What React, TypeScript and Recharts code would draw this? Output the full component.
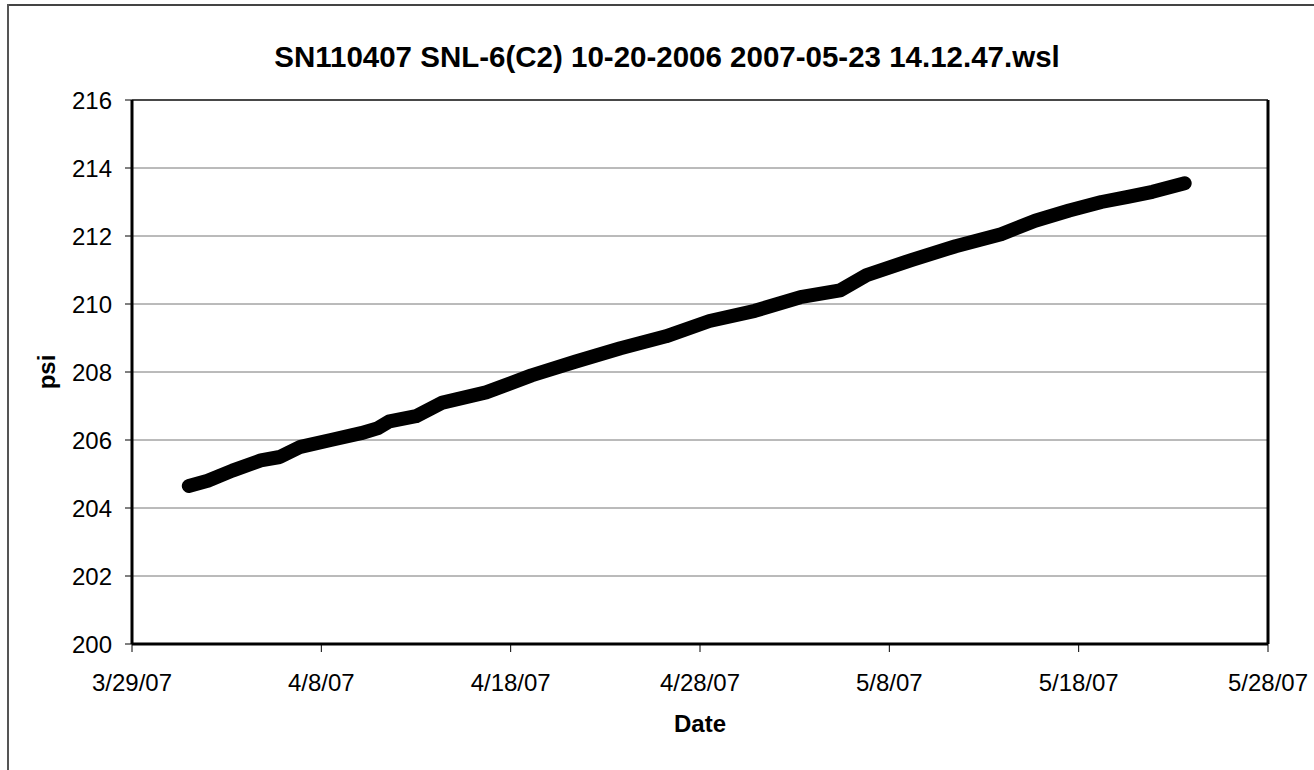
import React from 'react';
import { LineChart, Line, XAxis, YAxis, CartesianGrid, ReferenceLine } from 'recharts';

// x = days elapsed since 3/29/07 00:00
const dayOffsets = [
  3.0, 4.0, 5.3, 6.8, 7.8, 8.9, 10.5, 12.1, 13.0, 13.6, 15.0, 16.4, 18.7, 21.1, 23.4,
  25.8, 28.2, 30.5, 32.9, 35.3, 37.4, 38.8, 41.2, 43.5, 45.9, 47.7, 49.5, 51.2, 52.6,
  53.9, 55.6,
];
const psiValues = [
  204.65, 204.8, 205.1, 205.4, 205.5, 205.8, 206.0, 206.2, 206.35, 206.55, 206.7, 207.1,
  207.4, 207.9, 208.3, 208.7, 209.05, 209.5, 209.8, 210.2, 210.4, 210.85, 211.3, 211.7,
  212.05, 212.45, 212.75, 213.0, 213.15, 213.3, 213.55,
];

const xTickValues = [0, 10, 20, 30, 40, 50, 60];
const xTickLabels = ['3/29/07', '4/8/07', '4/18/07', '4/28/07', '5/8/07', '5/18/07', '5/28/07'];
const yTickValues = [200, 202, 204, 206, 208, 210, 212, 214, 216];

const title = 'SN110407 SNL-6(C2) 10-20-2006 2007-05-23 14.12.47.wsl';
const xTitle = 'Date';
const yTitle = 'psi';

const data = dayOffsets.map((d, i) => ({ day: d, psi: psiValues[i] }));

const FONT = '"Liberation Sans", Arial, Helvetica, sans-serif';

export default function App() {
  return (
    <div
      style={{
        position: 'absolute',
        left: 0,
        top: 0,
        width: 1314,
        height: 770,
        background: '#fff',
        fontFamily: FONT,
        overflow: 'hidden',
      }}
    >
      {/* scanned frame: top and left edges */}
      <div style={{ position: 'absolute', left: 8, top: 4, width: 1306, height: 2, background: '#444' }} />
      <div style={{ position: 'absolute', left: 7, top: 4, width: 2, height: 766, background: '#555' }} />

      <div
        style={{
          position: 'absolute',
          left: 0,
          top: 40,
          width: 1334,
          textAlign: 'center',
          fontSize: 29.5,
          fontWeight: 'bold',
          lineHeight: '34px',
          color: '#000',
          whiteSpace: 'nowrap',
        }}
      >
        {title}
      </div>

      <div style={{ position: 'absolute', left: 0, top: 0 }}>
        <LineChart
          width={1314}
          height={770}
          data={data}
          margin={{ top: 100, right: 46, left: 52, bottom: 26 }}
        >
          <CartesianGrid vertical={false} stroke="#777" strokeWidth={1} />
          <XAxis
            dataKey="day"
            type="number"
            domain={[0, 60]}
            ticks={xTickValues}
            tickFormatter={(v: number) => xTickLabels[xTickValues.indexOf(v)] ?? ''}
            height={100}
            tickSize={8}
            tickMargin={22}
            axisLine={{ stroke: '#000', strokeWidth: 3 }}
            tickLine={{ stroke: '#000', strokeWidth: 1 }}
            tick={{ fill: '#000', fontSize: 24, fontFamily: FONT }}
            interval={0}
            allowDataOverflow
          />
          <YAxis
            type="number"
            domain={[200, 216]}
            ticks={yTickValues}
            width={80}
            tickSize={7}
            tickMargin={13}
            axisLine={{ stroke: '#000', strokeWidth: 3 }}
            tickLine={{ stroke: '#000', strokeWidth: 1 }}
            tick={{ fill: '#000', fontSize: 24, fontFamily: FONT }}
            interval={0}
            allowDataOverflow
          />
          <ReferenceLine y={216} stroke="#222" strokeWidth={1.5} ifOverflow="visible" />
          <ReferenceLine x={60} stroke="#000" strokeWidth={3} ifOverflow="visible" />
          <Line
            type="linear"
            dataKey="psi"
            stroke="#000"
            strokeWidth={14}
            strokeLinecap="round"
            strokeLinejoin="round"
            dot={false}
            activeDot={false}
            isAnimationActive={false}
          />
        </LineChart>
      </div>

      <div
        style={{
          position: 'absolute',
          left: 600,
          width: 200,
          top: 709,
          textAlign: 'center',
          fontSize: 24,
          fontWeight: 'bold',
          lineHeight: '30px',
          color: '#000',
        }}
      >
        {xTitle}
      </div>

      <div
        style={{
          position: 'absolute',
          left: 47 - 50,
          top: 372 - 15,
          width: 100,
          textAlign: 'center',
          fontSize: 24,
          fontWeight: 'bold',
          lineHeight: '30px',
          color: '#000',
          transform: 'rotate(-90deg)',
        }}
      >
        {yTitle}
      </div>
    </div>
  );
}
